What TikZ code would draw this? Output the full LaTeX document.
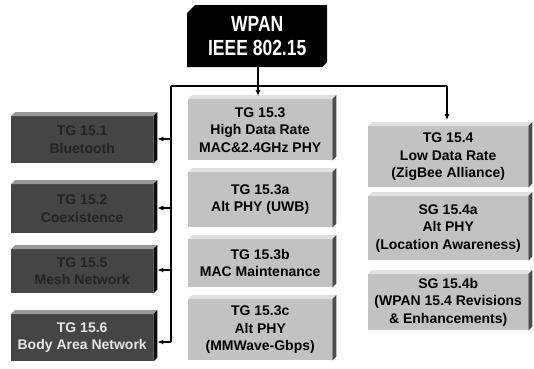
\documentclass[tikz,border=0pt]{standalone}
\usepackage{fontspec}
\setmainfont{Liberation Sans}
\usetikzlibrary{arrows.meta}
\definecolor{lightfill}{gray}{0.76}
\definecolor{lighttop}{gray}{0.88}
\definecolor{sidefill}{gray}{0.30}
\definecolor{darkfill}{gray}{0.27}
\definecolor{darktop}{gray}{0.60}
\definecolor{darkside}{gray}{0.05}
\definecolor{darktext}{gray}{0.14}
\definecolor{paletext}{gray}{0.90}
\begin{document}
\begin{tikzpicture}[x=1pt,y=-1pt,
  box/.style={draw=none, inner sep=0pt, align=center, anchor=north west,
    font=\bfseries\fontsize{14}{17.5}\selectfont,
    execute at begin node={\rule{0pt}{17pt}}},
  lightbox/.style={box, fill=lightfill, text=black},
  darkbox/.style={box, fill=darkfill, text=darktext},
  conn/.style={line width=1.1pt, draw=black},
  arr/.style={conn, -{Latex[length=6pt,width=5pt]}}]
\useasboundingbox (0,0) rectangle (534,368);

% top node
\fill[black] (187,13) -- (195,5) -- (327,5) -- (327,62) -- (322,67) -- (187,67) -- cycle;
\node[inner sep=0pt, align=center, text=white, minimum width=140pt, minimum height=62pt,
  anchor=north west, font=\bfseries\fontsize{17.5}{24}\selectfont] (top) at (187,5)
  {\scalebox{1}[1.25]{WPAN}\\\scalebox{1}[1.25]{IEEE 802.15}};

% left column
\node[darkbox, minimum width=142pt, minimum height=47pt] (l1) at (11,116) {TG 15.1\\Bluetooth};
\node[darkbox, minimum width=142pt, minimum height=49pt] (l2) at (11,184) {TG 15.2\\Coexistence};
\node[darkbox, minimum width=142pt, minimum height=44pt] (l3) at (11,249) {TG 15.5\\Mesh Network};
\node[darkbox, text=paletext, minimum width=142pt, minimum height=47pt] (l4) at (11,314) {TG 15.6\\Body Area Network};

% centre column
\node[lightbox, minimum width=144pt, minimum height=61pt] (c1) at (188,99) {TG 15.3\\High Data Rate\\MAC\&2.4GHz PHY};
\node[lightbox, minimum width=144pt, minimum height=55pt] (c2) at (188,172) {TG 15.3a\\Alt PHY (UWB)};
\node[lightbox, minimum width=144pt, minimum height=48pt] (c3) at (188,239) {TG 15.3b\\MAC Maintenance};
\node[lightbox, minimum width=144pt, minimum height=61pt] (c4) at (188,299) {TG 15.3c\\Alt PHY\\(MMWave-Gbps)};

% right column
\node[lightbox, minimum width=160pt, minimum height=61pt] (r1) at (368,126) {TG 15.4\\Low Data Rate\\(ZigBee Alliance)};
\node[lightbox, minimum width=160pt, minimum height=64pt] (r2) at (368,196) {SG 15.4a\\Alt PHY\\(Location Awareness)};
\node[lightbox, minimum width=160pt, minimum height=56pt] (r3) at (368,274) {SG 15.4b\\(WPAN 15.4 Revisions\\\& Enhancements)};

% 3D faces
\foreach \n in {c1,c2,c3,c4,r1,r2,r3} {
  \fill[lighttop] (\n.north west) -- ++(4,-4) -- ([shift={(4,-4)}]\n.north east) -- (\n.north east) -- cycle;
  \fill[sidefill] (\n.north east) -- ++(4,-4) -- ([shift={(4,-4)}]\n.south east) -- (\n.south east) -- cycle;
}
\foreach \n in {l1,l2,l3,l4} {
  \fill[darktop] (\n.north west) -- ++(4,-4) -- ([shift={(4,-4)}]\n.north east) -- (\n.north east) -- cycle;
  \fill[darkside] (\n.north east) -- ++(4,-4) -- ([shift={(4,-4)}]\n.south east) -- (\n.south east) -- cycle;
}

% connectors
\coordinate (j) at (258,86);
\coordinate (jl) at (171,86);
\coordinate (jr) at (447,86);
\draw[conn] (top.south -| j) -- (j);
\draw[arr] (j) -- ([yshift=3pt]j |- c1.north);
\draw[conn] (jl) -- (jr);
\draw[arr] (jr) -- ([yshift=6pt]jr |- r1.north);
\coordinate (s1) at (171,139);
\coordinate (s2) at (171,208);
\coordinate (s3) at (171,270);
\coordinate (s4) at (171,342);
\draw[conn] (jl) -- (s4);
\draw[arr] (s1) -- ([xshift=4pt]s1 -| l1.east);
\draw[arr] (s2) -- ([xshift=4pt]s2 -| l2.east);
\draw[arr] (s3) -- ([xshift=4pt]s3 -| l3.east);
\draw[arr] (s4) -- ([xshift=4pt]s4 -| l4.east);
\end{tikzpicture}
\end{document}
